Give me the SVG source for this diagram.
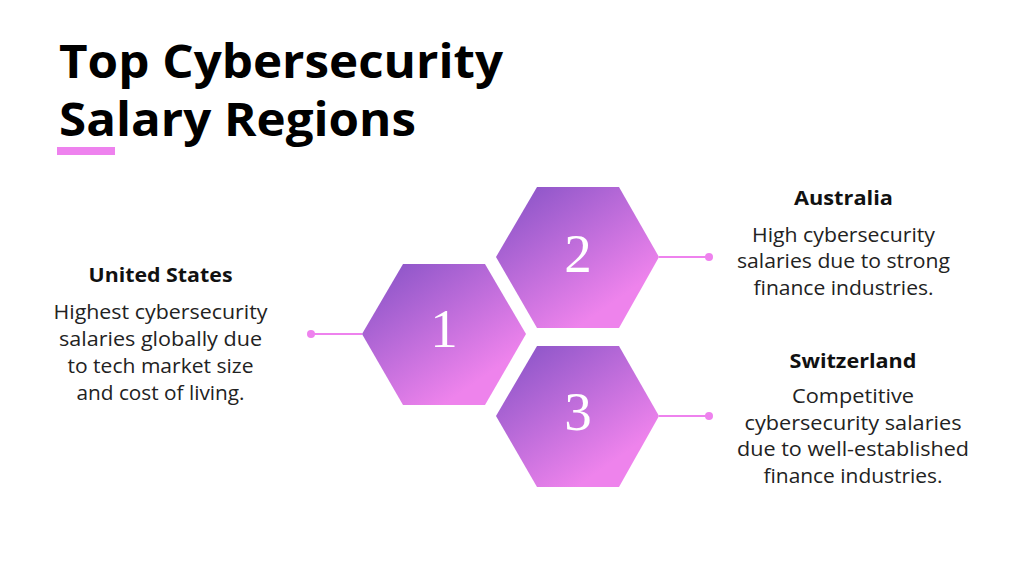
<svg xmlns="http://www.w3.org/2000/svg" width="1024" height="576" viewBox="0 0 1024 576">
<defs>
<linearGradient id="hexGrad" x1="0.1" y1="0.05" x2="0.72" y2="0.82">
<stop offset="0" stop-color="#8c55c8"/>
<stop offset="1" stop-color="#ee83ec"/>
</linearGradient>
<style>
.title{font-family:"Open Sans","Liberation Sans",sans-serif;font-weight:700;font-size:46px;fill:#000}
.head{font-family:"Open Sans","Liberation Sans",sans-serif;font-weight:700;font-size:19px;fill:#111;text-anchor:middle}
.body{font-family:"Open Sans","Liberation Sans",sans-serif;font-weight:400;font-size:19.5px;fill:#222;text-anchor:middle}
.num{font-family:"Liberation Serif","DejaVu Serif",serif;font-size:55px;fill:#fff;text-anchor:middle}
.hex{fill:url(#hexGrad)}
.conn{stroke:#ee82ee;stroke-width:2;fill:none}
.dot{fill:#ee82ee}
</style>
</defs>
<rect width="1024" height="576" fill="#fff"/>
<g id="title">
<text class="title" x="59" y="78" textLength="444" lengthAdjust="spacingAndGlyphs">Top Cybersecurity</text>
<text class="title" x="59" y="136" textLength="357" lengthAdjust="spacingAndGlyphs">Salary Regions</text>
<rect x="57" y="147" width="58" height="8" fill="#ee82ee"/>
</g>
<g id="connectors">
<line class="conn" x1="311" y1="334" x2="362" y2="334"/>
<circle class="dot" cx="311" cy="334" r="4"/>
<line class="conn" x1="659" y1="257" x2="709" y2="257"/>
<circle class="dot" cx="709" cy="257" r="4"/>
<line class="conn" x1="659" y1="416" x2="709" y2="416"/>
<circle class="dot" cx="709" cy="416" r="4"/>
</g>
<g id="hex1">
<polygon class="hex" points="362,334 403,264 485,264 526,334 485,405 403,405"/>
<text class="num" x="444" y="347">1</text>
</g>
<g id="hex2">
<polygon class="hex" points="496,257 537,187 619,187 659,257 619,328 537,328"/>
<text class="num" x="578" y="272">2</text>
</g>
<g id="hex3">
<polygon class="hex" points="496,416 537,346 619,346 659,416 619,487 537,487"/>
<text class="num" x="578" y="430">3</text>
</g>
<g id="us">
<text class="head" x="160.5" y="282" textLength="144" lengthAdjust="spacingAndGlyphs">United States</text>
<text class="body" x="160.5" y="319" textLength="214" lengthAdjust="spacingAndGlyphs">Highest cybersecurity</text>
<text class="body" x="160.5" y="346" textLength="203" lengthAdjust="spacingAndGlyphs">salaries globally due</text>
<text class="body" x="160.5" y="373" textLength="186" lengthAdjust="spacingAndGlyphs">to tech market size</text>
<text class="body" x="160.5" y="400" textLength="168" lengthAdjust="spacingAndGlyphs">and cost of living.</text>
</g>
<g id="australia">
<text class="head" x="843.5" y="205" textLength="99" lengthAdjust="spacingAndGlyphs">Australia</text>
<text class="body" x="843.5" y="242" textLength="183" lengthAdjust="spacingAndGlyphs">High cybersecurity</text>
<text class="body" x="843.5" y="268" textLength="213" lengthAdjust="spacingAndGlyphs">salaries due to strong</text>
<text class="body" x="843.5" y="295" textLength="180" lengthAdjust="spacingAndGlyphs">finance industries.</text>
</g>
<g id="switzerland">
<text class="head" x="853" y="368" textLength="127" lengthAdjust="spacingAndGlyphs">Switzerland</text>
<text class="body" x="853" y="403" textLength="122" lengthAdjust="spacingAndGlyphs">Competitive</text>
<text class="body" x="853" y="430" textLength="217" lengthAdjust="spacingAndGlyphs">cybersecurity salaries</text>
<text class="body" x="853" y="456" textLength="232" lengthAdjust="spacingAndGlyphs">due to well-established</text>
<text class="body" x="853" y="483" textLength="179" lengthAdjust="spacingAndGlyphs">finance industries.</text>
</g>
</svg>
